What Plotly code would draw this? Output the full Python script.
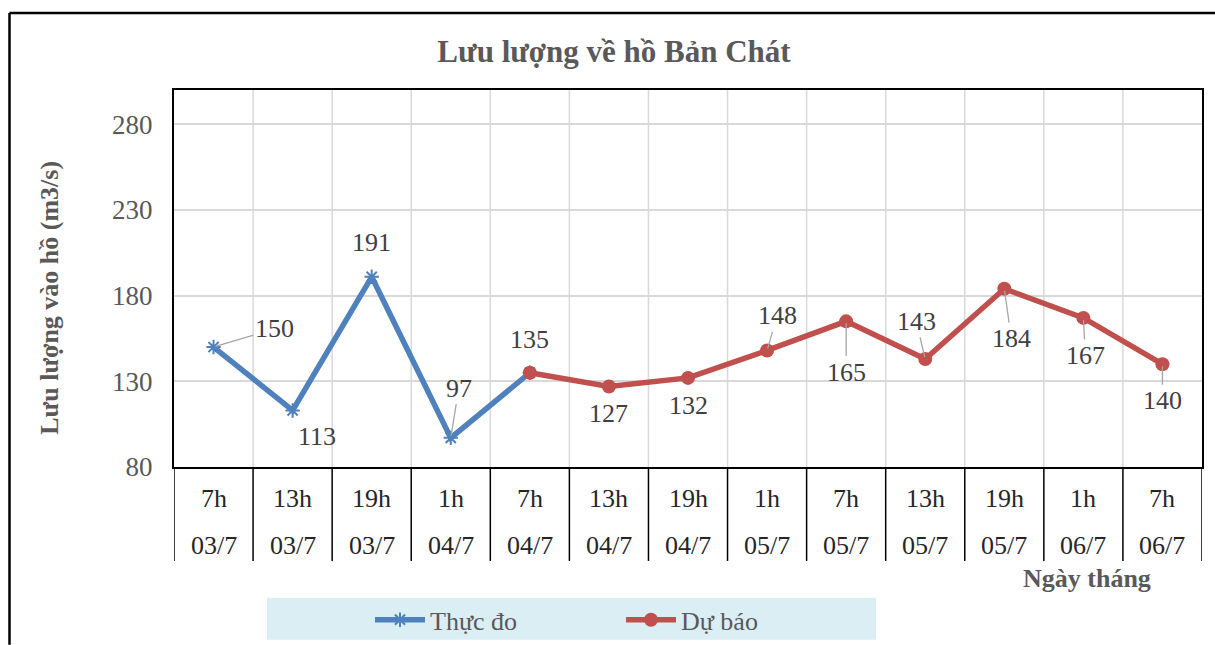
import plotly.graph_objects as go

hours = ["7h", "13h", "19h", "1h", "7h", "13h", "19h", "1h", "7h", "13h", "19h", "1h", "7h"]
dates = ["03/7", "03/7", "03/7", "04/7", "04/7", "04/7", "04/7", "05/7", "05/7", "05/7", "05/7", "06/7", "06/7"]
observed_idx = [0, 1, 2, 3, 4]
observed = [150, 113, 191, 97, 135]
forecast_idx = [4, 5, 6, 7, 8, 9, 10, 11, 12]
forecast = [135, 127, 132, 148, 165, 143, 184, 167, 140]

W, H = 1215, 655
K = H / 645.0  # vertical scale from design coordinates to figure pixels
L, R = 174, 13
T = round(89 * K)
B = H - round(467 * K)
PW, PH = W - L - R, H - T - B

def px(x):
    return (x - L) / PW

def py(y):
    return (H - B - y * K) / PH

SERIF = "Liberation Serif, Times New Roman, serif"
GREY = "#595959"
LBL = "#404040"

fig = go.Figure()
fig.add_trace(go.Scatter(
    x=observed_idx, y=observed, mode="lines+markers", name="Thực đo",
    line=dict(color="#4F81BD", width=5.5),
    marker=dict(symbol="asterisk-open", size=12, color="#4F81BD", line=dict(color="#4F81BD", width=2)),
))
fig.add_trace(go.Scatter(
    x=forecast_idx, y=forecast, mode="lines+markers", name="Dự báo",
    line=dict(color="#C0504D", width=5.5),
    marker=dict(symbol="circle", size=14, color="#C0504D"),
))

# data label offsets (px) and leader-line visibility
label_style = [
    (61, -18, True), (24, 26, False), (0, -34, False), (8, -49, True), (0, -33, False),
    (0, 27, False), (0, 27, False), (10, -34, True), (0, 50, True), (-9, -37, True),
    (7, 49, True), (2, 37, True), (0, 36, True),
]
all_idx = observed_idx + forecast_idx[1:]
all_vals = observed + forecast[1:]
annotations = []
for (i, v), (ax, ay, lead) in zip(zip(all_idx, all_vals), label_style):
    annotations.append(dict(
        x=i, y=v, xref="x", yref="y", text=str(v), showarrow=True,
        ax=ax, ay=ay * K, arrowhead=0, arrowwidth=1.3,
        arrowcolor="#A6A6A6" if lead else "rgba(0,0,0,0)", standoff=2,
        font=dict(family=SERIF, size=26, color=LBL),
    ))

# category table labels
for i, (h, d) in enumerate(zip(hours, dates)):
    annotations.append(dict(x=i, y=py(498), xref="x", yref="paper", text=h, showarrow=False,
                            xanchor="center", yanchor="middle",
                            font=dict(family=SERIF, size=26, color="#262626")))
    annotations.append(dict(x=i, y=py(546), xref="x", yref="paper", text=d, showarrow=False,
                            xanchor="center", yanchor="middle",
                            font=dict(family=SERIF, size=26, color="#262626")))

annotations.append(dict(x=px(1087), y=py(579), xref="paper", yref="paper", text="<b>Ngày tháng</b>",
                        showarrow=False, xanchor="center", yanchor="middle",
                        font=dict(family=SERIF, size=26, color=GREY)))
annotations.append(dict(x=px(50), y=py(297), xref="paper", yref="paper", text="<b>Lưu lượng vào hồ (m3/s)</b>",
                        showarrow=False, textangle=-90, xanchor="center", yanchor="middle",
                        font=dict(family=SERIF, size=26, color=GREY)))

shapes = []
for k in range(len(hours) + 1):
    shapes.append(dict(type="line", xref="x", yref="paper", x0=k - 0.5, x1=k - 0.5,
                       y0=0, y1=py(561), line=dict(color="black", width=1.5)))
# legend background
shapes.append(dict(type="rect", xref="paper", yref="paper", x0=px(267), x1=px(876), y0=py(640), y1=py(598),
                   fillcolor="#DBEEF4", line=dict(width=0), layer="below"))
# outer chart border (top and left edges visible)
shapes.append(dict(type="line", xref="paper", yref="paper", x0=px(9.5), x1=px(W), y0=py(11.5), y1=py(11.5),
                   line=dict(color="black", width=2.5)))
shapes.append(dict(type="line", xref="paper", yref="paper", x0=px(9.5), x1=px(9.5), y0=py(11.5), y1=py(645),
                   line=dict(color="black", width=2.5)))

fig.update_layout(
    width=W, height=H,
    margin=dict(l=L, r=R, t=T, b=B),
    paper_bgcolor="white", plot_bgcolor="white",
    title=dict(text="<b>Lưu lượng về hồ Bản Chát</b>", x=614 / W, xanchor="center",
               y=1 - 50 * K / H, yanchor="middle", font=dict(family=SERIF, size=31, color=GREY)),
    xaxis=dict(type="linear", range=[-0.5, 12.5], tickvals=list(range(len(hours))), showticklabels=False,
               showgrid=False, showline=True, linecolor="black", linewidth=2, mirror=True, zeroline=False),
    yaxis=dict(range=[80, 300], tick0=80, dtick=50, showgrid=True, gridcolor="#D9D9D9", gridwidth=1.5,
               showline=True, linecolor="black", linewidth=2, mirror=True, zeroline=False,
               ticks="", ticklabelstandoff=14,
               tickfont=dict(family=SERIF, size=27, color=GREY)),
    showlegend=True,
    legend=dict(orientation="h", x=px(370), xanchor="left", y=py(620), yanchor="middle",
                bgcolor="rgba(0,0,0,0)", entrywidth=186, itemwidth=50,
                font=dict(family=SERIF, size=26, color=GREY)),
    annotations=annotations, shapes=shapes,
)
# vertical gridlines at category boundaries
for k in range(1, len(hours)):
    fig.add_shape(type="line", xref="x", yref="y", x0=k - 0.5, x1=k - 0.5, y0=80, y1=300,
                  line=dict(color="#D9D9D9", width=1.5), layer="below")

fig.write_html("out.html", config={"displayModeBar": False},
               post_script="document.body.style.margin='0';document.body.style.overflow='hidden';")
